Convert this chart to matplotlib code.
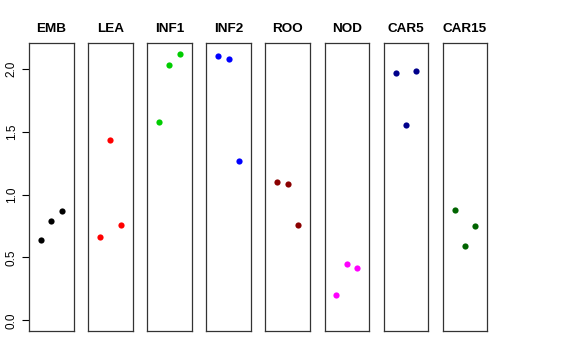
import matplotlib
matplotlib.use("Agg")
import matplotlib.pyplot as plt

plt.rcParams['font.family'] = ['Liberation Sans', 'DejaVu Sans']

groups = ["EMB", "LEA", "INF1", "INF2", "ROO", "NOD", "CAR5", "CAR15"]
colors = ["black", "red", "#00CD00", "blue", "#8B0000", "magenta", "#00008B", "#006400"]
reps = [1, 2, 3]
vals = [
    [0.64, 0.79, 0.87],
    [0.66, 1.43, 0.76],
    [1.58, 2.03, 2.12],
    [2.10, 2.08, 1.27],
    [1.10, 1.08, 0.76],
    [0.20, 0.45, 0.42],
    [1.97, 1.55, 1.98],
    [0.88, 0.59, 0.75],
]
yticks = [0.0, 0.5, 1.0, 1.5, 2.0]

W, H = 576, 360
fig = plt.figure(figsize=(W / 100, H / 100), dpi=100)

ymax = max(max(v) for v in vals)
pad = 0.04 * ymax
for i, (g, c, v) in enumerate(zip(groups, colors, vals)):
    left = 29 + 59.1 * i
    ax = fig.add_axes([left / W, 1 - 331 / H, 44.5 / W, 288 / H])
    ax.scatter(reps, v, color=c, s=20, linewidths=0, zorder=3)
    ax.set_xlim(-0.16, 4.16)
    ax.set_ylim(-pad, ymax + pad)
    ax.set_xticks([])
    for sp in ax.spines.values():
        sp.set_linewidth(0.9)
        sp.set_color("#333333")
    ax.set_title(g, fontsize=9.7, fontweight="bold", pad=8)
    if i == 0:
        ax.set_yticks(yticks)
        ax.set_yticklabels([f"{t:.1f}" for t in yticks], rotation=90, va="center", fontsize=8.5)
        ax.tick_params(axis="y", length=5, width=0.8, pad=3)
    else:
        ax.set_yticks([])

fig.savefig("out.png", dpi=100)
